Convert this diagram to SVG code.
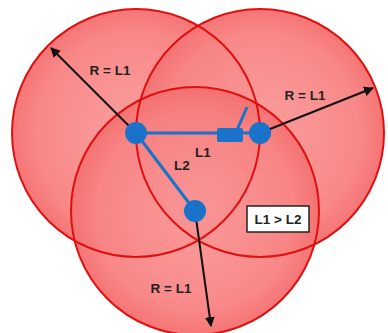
<svg xmlns="http://www.w3.org/2000/svg" width="388" height="333" viewBox="0 0 388 333">
<defs>
<radialGradient id="rg">
<stop offset="0" stop-color="#fca4a4"/>
<stop offset="0.8" stop-color="#fa8c8c"/>
<stop offset="1" stop-color="#f67878"/>
</radialGradient>
<marker id="ah" viewBox="0 0 10 10" refX="9" refY="5" markerWidth="5" markerHeight="5" orient="auto" markerUnits="strokeWidth">
<path d="M0,0 L10,5 L0,10 z" fill="#111"/>
</marker>
<style>
.fill{fill:url(#rg)}
.tint{fill:#e03030;fill-opacity:0.04}
.ring{fill:none;stroke:#e01010;stroke-width:2}
.blue{stroke:#1a73c8;stroke-width:3;fill:none}
.node{fill:#1a73c8}
.arr{stroke:#111;stroke-width:2;fill:none;marker-end:url(#ah)}
.lbl{font-family:"Liberation Sans",Arial,sans-serif;font-weight:bold;font-size:13.5px;fill:#222;text-anchor:middle}
</style>
</defs>
<rect width="388" height="333" fill="#fff"/>
<g id="zones">
<circle class="fill" cx="136" cy="133" r="124"/>
<circle class="fill" cx="260" cy="133" r="124"/>
<circle class="fill" cx="195" cy="211" r="124"/>
<circle class="tint" cx="136" cy="133" r="124"/>
<circle class="tint" cx="260" cy="133" r="124"/>
<circle class="tint" cx="195" cy="211" r="124"/>
<circle class="ring" cx="136" cy="133" r="124"/>
<circle class="ring" cx="260" cy="133" r="124"/>
<circle class="ring" cx="195" cy="211" r="124"/>
</g>
<g id="connectors">
<line class="blue" x1="136" y1="133" x2="260" y2="133"/>
<line class="blue" x1="136" y1="133" x2="195" y2="211"/>
<line class="blue" x1="237" y1="130" x2="247" y2="107"/>
<line class="arr" x1="136" y1="133" x2="51" y2="48"/>
<line class="arr" x1="260" y1="133" x2="373" y2="88"/>
<line class="arr" x1="195" y1="211" x2="211" y2="326"/>
</g>
<g id="node-a"><circle class="node" cx="136" cy="133" r="11"/></g>
<g id="node-b"><circle class="node" cx="260" cy="133" r="11"/></g>
<g id="node-c"><circle class="node" cx="195" cy="211" r="11"/></g>
<g id="switch"><rect class="node" x="217" y="128" width="26" height="14" rx="2"/></g>
<g id="labels">
<text class="lbl" x="110" y="75">R = L1</text>
<text class="lbl" x="305" y="100">R = L1</text>
<text class="lbl" x="171" y="293">R = L1</text>
<text class="lbl" x="203" y="157">L1</text>
<text class="lbl" x="182" y="170">L2</text>
</g>
<g id="note">
<rect x="247" y="206" width="62" height="26" fill="#fff" stroke="#222" stroke-width="1.5"/>
<text class="lbl" x="278" y="224">L1 &gt; L2</text>
</g>
</svg>
